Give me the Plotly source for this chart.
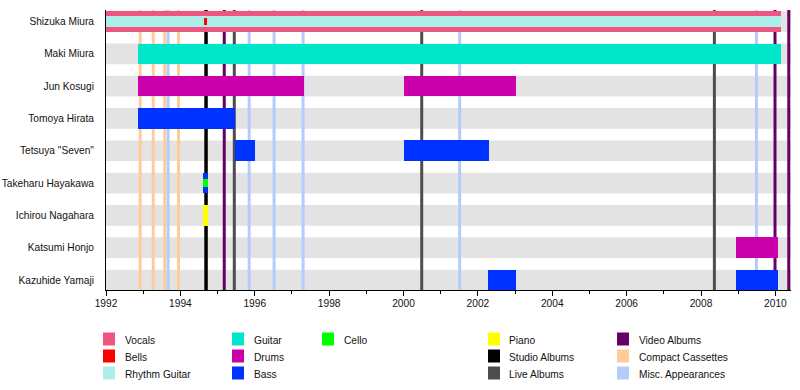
import plotly.graph_objects as go

# ---------------- data ----------------
members = ["Shizuka Miura", "Maki Miura", "Jun Kosugi", "Tomoya Hirata",
           'Tetsuya "Seven"', "Takeharu Hayakawa", "Ichirou Nagahara",
           "Katsumi Honjo", "Kazuhide Yamaji"]

period_member = ["Shizuka Miura", "Shizuka Miura", "Shizuka Miura",
                 "Maki Miura",
                 "Jun Kosugi", "Jun Kosugi",
                 "Tomoya Hirata",
                 'Tetsuya "Seven"', 'Tetsuya "Seven"',
                 "Takeharu Hayakawa", "Takeharu Hayakawa",
                 "Ichirou Nagahara",
                 "Katsumi Honjo",
                 "Kazuhide Yamaji", "Kazuhide Yamaji"]
period_role = ["Vocals", "Rhythm Guitar", "Bells",
               "Guitar",
               "Drums", "Drums",
               "Bass",
               "Bass", "Bass",
               "Bass", "Cello",
               "Piano",
               "Drums",
               "Bass", "Bass"]
period_start = [1992.0, 1992.0, 1994.63,
                1992.86,
                1992.86, 2000.0,
                1992.86,
                1995.48, 2000.0,
                1994.61, 1994.61,
                1994.61,
                2008.95,
                2002.28, 2008.95]
period_end = [2010.14, 2010.14, 1994.72,
              2010.14,
              1997.32, 2003.03,
              1995.46,
              1996.0, 2002.31,
              1994.75, 1994.75,
              1994.75,
              2010.07,
              2003.03, 2010.07]
period_kind = ["wide", "narrow", "thin",
               "wide",
               "wide", "wide",
               "wide",
               "wide", "wide",
               "wide", "cello",
               "wide",
               "wide",
               "wide", "wide"]

studio_albums = [1994.69]
live_albums = [1995.45, 2000.49, 2008.36]
video_albums = [1995.18, 2009.99, 2010.36]
compact_cassettes = [1992.92, 1993.27, 1993.58, 1993.95]
misc_appearances = [1993.67, 1995.85, 1996.52, 1997.30, 2001.51, 2009.49]

role_colors = {
    "Vocals": "#EE5581", "Bells": "#FF0000", "Rhythm Guitar": "#AEEEEA",
    "Guitar": "#00E6C8", "Drums": "#CC00AA", "Bass": "#0033FF",
    "Cello": "#00FF00", "Piano": "#FFFF00",
    "Studio Albums": "#000000", "Live Albums": "#4D4D4D",
    "Video Albums": "#660066", "Compact Cassettes": "#FFCC99",
    "Misc. Appearances": "#B4CCFA",
}
legend_columns = [["Vocals", "Bells", "Rhythm Guitar"],
                  ["Guitar", "Drums", "Bass"],
                  ["Cello"],
                  ["Piano", "Studio Albums", "Live Albums"],
                  ["Video Albums", "Compact Cassettes", "Misc. Appearances"]]

# ---------------- layout geometry ----------------
W, H = 800, 390
L, R, T, B = 106, 9, 10, 100
PW, PH = W - L - R, H - T - B
x_range = [1992, 2010.42]
y_range = [8.31, -0.357]
widths = {"wide": 0.64, "narrow": 0.34, "thin": 0.2, "cello": 0.27}
FS = 10.2

fig = go.Figure()

row_of = {m: i for i, m in enumerate(members)}
for m, role, s, e, k in zip(period_member, period_role, period_start, period_end, period_kind):
    fig.add_trace(go.Bar(
        orientation="h", y=[row_of[m]], x=[e - s], base=[s],
        width=widths[k], marker=dict(color=role_colors[role], line=dict(width=0)),
        showlegend=False, name=role,
        hovertemplate=f"{m}<br>{role}<br>%{{base:.2f}}–{e:.2f}<extra></extra>"))

shapes = []
for i in range(len(members)):
    shapes.append(dict(type="rect", xref="paper", yref="y", x0=0, x1=1,
                       y0=i - 0.32, y1=i + 0.32, fillcolor="#E3E3E3",
                       line=dict(width=0), layer="below"))
for vals, key, w in [(compact_cassettes, "Compact Cassettes", 3),
                     (misc_appearances, "Misc. Appearances", 3),
                     (live_albums, "Live Albums", 3),
                     (video_albums, "Video Albums", 3),
                     (studio_albums, "Studio Albums", 3.5)]:
    for v in vals:
        shapes.append(dict(type="line", xref="x", yref="paper", x0=v, x1=v,
                           y0=0, y1=1, line=dict(color=role_colors[key], width=w),
                           layer="below"))

def px2x(px):
    return (px - L) / PW

def py2y(py):
    return (H - B - py) / PH

annotations = []
col_swatch_x = [103, 232, 322, 488, 617]
col_text_x = [123, 252, 342, 507, 637]
row_y = [339, 356, 373]
for c, items in enumerate(legend_columns):
    for r, name in enumerate(items):
        sx, sy = col_swatch_x[c], row_y[r]
        shapes.append(dict(type="rect", xref="paper", yref="paper",
                           x0=px2x(sx), x1=px2x(sx + 12),
                           y0=py2y(sy + 6.5), y1=py2y(sy - 6.5),
                           fillcolor=role_colors[name], line=dict(width=0)))
        annotations.append(dict(xref="paper", yref="paper", x=px2x(col_text_x[c]),
                                y=py2y(sy + 1), text=name, showarrow=False,
                                xanchor="left", yanchor="middle",
                                font=dict(size=FS, color="#111")))

fig.update_layout(
    width=W, height=H, margin=dict(l=L, r=R, t=T, b=B, pad=0, autoexpand=False),
    plot_bgcolor="white", paper_bgcolor="white", barmode="overlay",
    font=dict(family="Liberation Sans, Arial, sans-serif", size=FS, color="#111"),
    shapes=shapes, annotations=annotations, showlegend=False, bargap=0,
    xaxis=dict(range=x_range, tick0=1992, dtick=2, ticks="outside", ticklen=5,
               tickcolor="black", showline=True, linecolor="black", linewidth=1,
               showgrid=False, zeroline=False, tickfont=dict(size=FS),
               automargin=False, ticklabelstandoff=-1,
               minor=dict(dtick=1, tick0=1992, ticks="outside", ticklen=3,
                          tickcolor="black", showgrid=False)),
    yaxis=dict(range=y_range, tickvals=list(range(len(members))), ticktext=members,
               ticks="", showline=True, linecolor="black", linewidth=1,
               showgrid=False, zeroline=False, tickfont=dict(size=FS),
               automargin=False, ticklabelstandoff=9),
)

fig.write_html("out.html", config={"displayModeBar": False},
               post_script="document.body.style.margin='0';document.body.style.overflow='hidden';")
